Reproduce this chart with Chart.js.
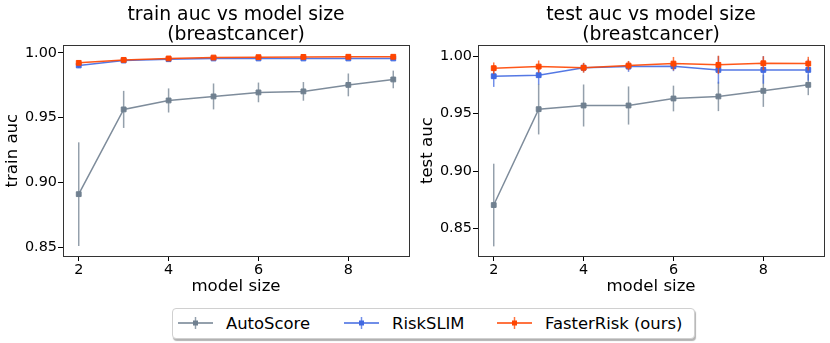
<!DOCTYPE html>
<html>
<head>
<meta charset="utf-8">
<script src="https://cdn.jsdelivr.net/npm/chart.js@4"></script>
<style>
  body { margin: 0; background: #fff; font-family: 'DejaVu Sans', sans-serif; }
  #wrap { position: relative; width: 830px; height: 343px; overflow: hidden; }
  .box { position: absolute; top: 0; width: 415px; height: 300px; }
  #legend {
    position: absolute; left: 172px; top: 308px; width: 521px; height: 29px;
    border: 1px solid #d0d0d0; border-radius: 4px; box-shadow: 1px 2px 1px rgba(0,0,0,0.3);
    display: flex; align-items: center; font-size: 16.4px; color: #000; background: #fff;
  }
  .item { display: flex; align-items: center; position: absolute; top: 4px; }
  .item svg { margin-right: 13px; }
</style>
</head>
<body>
<div id="wrap">
  <div class="box" style="left:0"><canvas id="chartTrain"></canvas></div>
  <div class="box" style="left:415px"><canvas id="chartTest"></canvas></div>
  <div id="legend"></div>
</div>
<script>
// model size on the x axis
const SIZES = [2, 3, 4, 5, 6, 7, 8, 9];
const X_TICKS = [2, 4, 6, 8];
const Y_TICKS = [0.85, 0.90, 0.95, 1.00];

// train auc (mean and half-width of the error bar)
const AUTO_TRAIN = [0.891, 0.9564, 0.9633, 0.9664, 0.9695, 0.9703, 0.9753, 0.9795];
const AUTO_TRAIN_ERR = [0.040, 0.0143, 0.0093, 0.0100, 0.0076, 0.0072, 0.0088, 0.0068];
const RISK_TRAIN = [0.9903, 0.9941, 0.9951, 0.9957, 0.9957, 0.9957, 0.9957, 0.9957];
const RISK_TRAIN_ERR = [0.0020, 0.0010, 0.0008, 0.0006, 0.0006, 0.0006, 0.0006, 0.0006];
const FASTER_TRAIN = [0.9923, 0.9946, 0.9957, 0.9964, 0.9967, 0.9969, 0.9970, 0.9970];
const FASTER_TRAIN_ERR = [0.0012, 0.0008, 0.0006, 0.0005, 0.0005, 0.0005, 0.0005, 0.0005];

// test auc
const AUTO_TEST = [0.8704, 0.9539, 0.9571, 0.9571, 0.9632, 0.9650, 0.9699, 0.9751];
const AUTO_TEST_ERR = [0.036, 0.022, 0.0183, 0.0166, 0.0112, 0.0128, 0.0140, 0.0090];
const RISK_TEST = [0.9826, 0.9835, 0.9900, 0.9910, 0.9913, 0.9881, 0.9881, 0.9881];
const RISK_TEST_ERR = [0.0093, 0.0080, 0.0040, 0.0046, 0.0043, 0.0120, 0.0120, 0.0093];
const FASTER_TEST = [0.9896, 0.9910, 0.9900, 0.9919, 0.9936, 0.9925, 0.9939, 0.9936];
const FASTER_TEST_ERR = [0.0050, 0.0053, 0.0043, 0.0040, 0.0058, 0.0080, 0.0061, 0.0059];

const NAMES = ['AutoScore', 'RiskSLIM', 'FasterRisk (ours)'];
const COLORS = ['#708090', '#4169e1', '#ff4500'];
const FONT = "'DejaVu Sans', sans-serif";

// vertical error bars, drawn just under each dataset's own line
const errorBars = {
  id: 'errorBars',
  beforeDatasetDraw(chart, args) {
    const ds = chart.data.datasets[args.index];
    if (!ds.errors) return;
    const xs = chart.scales.x, ys = chart.scales.y, ctx = chart.ctx;
    ctx.save();
    ctx.strokeStyle = ds.errColor;
    ctx.lineWidth = 1.5;
    ds.data.forEach((p, i) => {
      const px = xs.getPixelForValue(p.x);
      ctx.beginPath();
      ctx.moveTo(px, ys.getPixelForValue(p.y - ds.errors[i]));
      ctx.lineTo(px, ys.getPixelForValue(p.y + ds.errors[i]));
      ctx.stroke();
    });
    ctx.restore();
  }
};

// matplotlib style box round the axes
const frame = {
  id: 'frame',
  afterDatasetsDraw(chart) {
    const a = chart.chartArea, ctx = chart.ctx;
    ctx.save();
    ctx.strokeStyle = '#333';
    ctx.lineWidth = 1;
    ctx.strokeRect(Math.round(a.left) + 0.5, Math.round(a.top) + 0.5,
      Math.round(a.right - a.left), Math.round(a.bottom - a.top));
    ctx.restore();
  }
};

function hexA(hex, a) {
  const n = parseInt(hex.slice(1), 16);
  return `rgba(${n >> 16},${(n >> 8) & 255},${n & 255},${a})`;
}

function makeSet(i, vals, errs) {
  return {
    label: NAMES[i],
    data: SIZES.map((s, k) => ({ x: s, y: vals[k] })),
    errors: errs,
    errColor: hexA(COLORS[i], 0.75),
    borderColor: hexA(COLORS[i], 0.9),
    backgroundColor: COLORS[i],
    borderWidth: 1.5,
    pointStyle: 'rect',
    pointRadius: 3.4,
    pointBorderWidth: 1,
    pointBorderColor: COLORS[i],
    order: 3 - i
  };
}

function makeChart(id, title, yLabel, yMin, yMax, sets) {
  new Chart(document.getElementById(id), {
    type: 'line',
    data: { datasets: sets },
    plugins: [errorBars, frame],
    options: {
      responsive: true, maintainAspectRatio: false, animation: false,
      layout: { padding: { left: 0, right: 6, top: 0, bottom: 0 } },
      plugins: {
        legend: { display: false },
        tooltip: { enabled: false },
        title: {
          display: true, text: title, fullSize: false, color: '#000',
          font: { family: FONT, size: 18.8, weight: 'normal', lineHeight: 1.07 },
          padding: { top: 5, bottom: 0 }
        }
      },
      scales: {
        x: {
          type: 'linear', min: 1.65, max: 9.35,
          afterBuildTicks: s => { s.ticks = X_TICKS.map(v => ({ value: v })); },
          afterFit: s => { s.height = 44; },
          grid: { drawOnChartArea: false, drawTicks: true, tickLength: 5, color: '#000' },
          border: { display: false },
          ticks: { color: '#000', padding: 1, maxRotation: 0, font: { family: FONT, size: 14.4 } },
          title: { display: true, text: 'model size', color: '#000', padding: { top: 0, bottom: 3 },
                   font: { family: FONT, size: 16.6 } }
        },
        y: {
          min: yMin, max: yMax,
          afterBuildTicks: s => { s.ticks = Y_TICKS.map(v => ({ value: v })); },
          afterFit: s => { s.width = 63; },
          grid: { drawOnChartArea: false, drawTicks: true, tickLength: 5, color: '#000' },
          border: { display: false },
          ticks: { color: '#000', padding: 1, callback: v => v.toFixed(2), font: { family: FONT, size: 14.4 } },
          title: { display: true, text: yLabel, color: '#000', padding: { top: 3, bottom: 0 },
                   font: { family: FONT, size: 16.6 } }
        }
      }
    }
  });
}

makeChart('chartTrain', ['train auc vs model size', '(breastcancer)'], 'train auc', 0.8433, 1.0059, [
  makeSet(0, AUTO_TRAIN, AUTO_TRAIN_ERR),
  makeSet(1, RISK_TRAIN, RISK_TRAIN_ERR),
  makeSet(2, FASTER_TRAIN, FASTER_TRAIN_ERR)
]);

makeChart('chartTest', ['test auc vs model size', '(breastcancer)'], 'test auc', 0.826, 1.0096, [
  makeSet(0, AUTO_TEST, AUTO_TEST_ERR),
  makeSet(1, RISK_TEST, RISK_TEST_ERR),
  makeSet(2, FASTER_TEST, FASTER_TEST_ERR)
]);

// shared legend under both panels
const LEGEND_X = [5, 171, 324];
const legend = document.getElementById('legend');
NAMES.forEach((name, i) => {
  const c = COLORS[i];
  legend.innerHTML += `<div class="item" style="left:${LEGEND_X[i]}px">
    <svg width="35" height="20"><line x1="0" y1="10" x2="35" y2="10" stroke="${c}" stroke-width="1.5"/>
    <line x1="17.5" y1="4" x2="17.5" y2="16" stroke="${hexA(c, 0.75)}" stroke-width="1.5"/>
    <rect x="15" y="7.5" width="5" height="5" fill="${c}"/></svg><span>${name}</span></div>`;
});
</script>
</body>
</html>
